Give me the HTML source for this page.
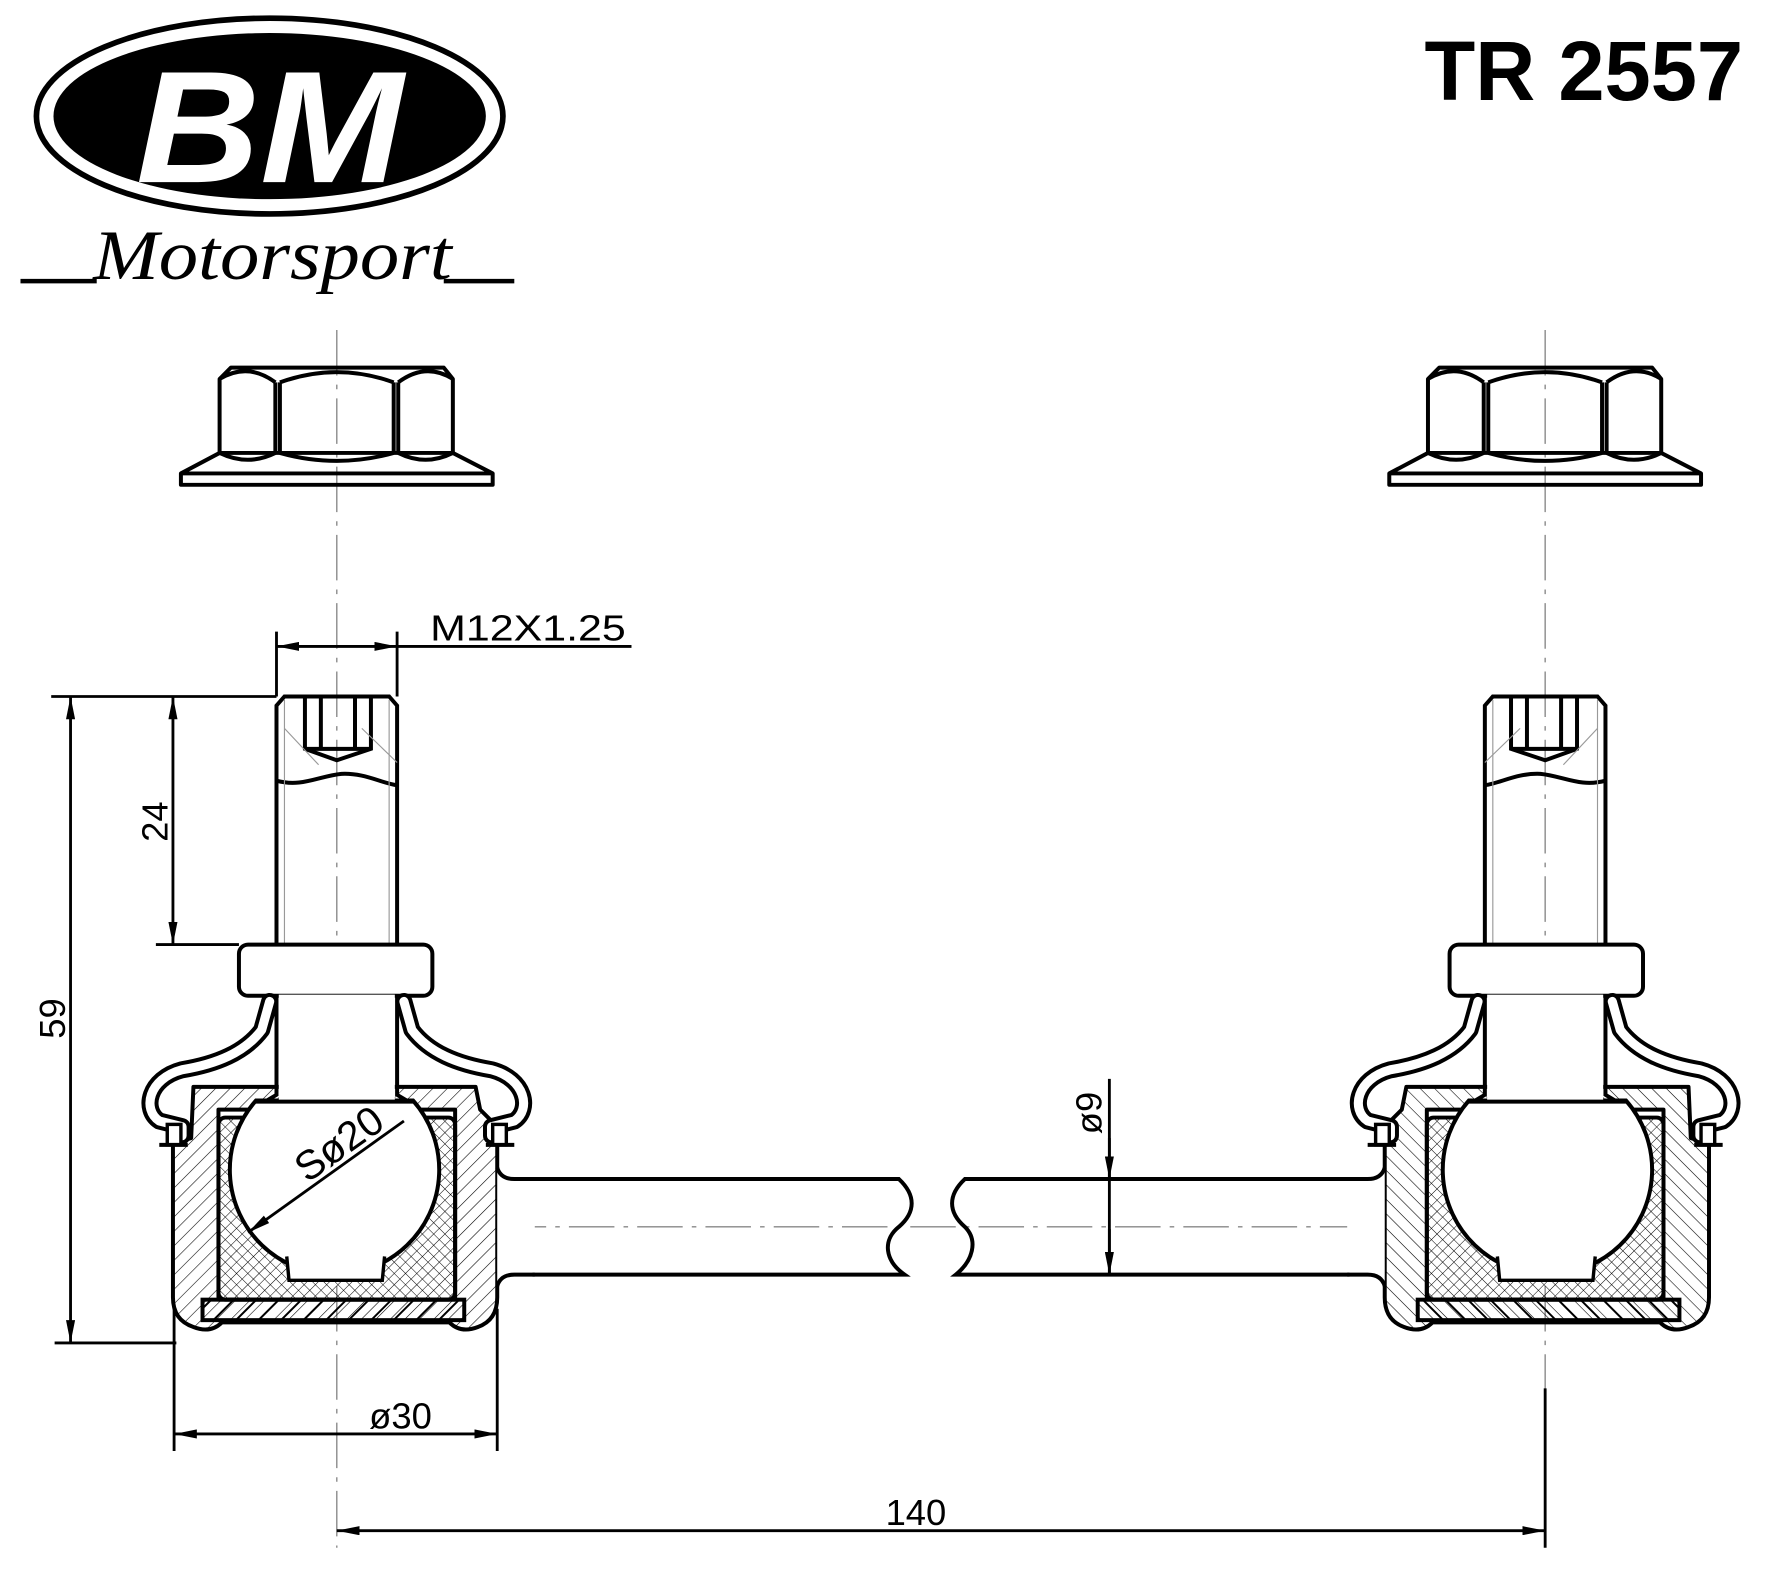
<!DOCTYPE html>
<html><head><meta charset="utf-8"><style>html,body{margin:0;padding:0;background:#fff}svg{display:block}</style></head>
<body>
<svg width="1775" height="1591" viewBox="0 0 1560 1398" preserveAspectRatio="none" xmlns="http://www.w3.org/2000/svg">
<defs>
<pattern id="h1" width="9" height="9" patternUnits="userSpaceOnUse" patternTransform="rotate(45)"><line x1="0" y1="0" x2="0" y2="9" stroke="#000" stroke-width="1"/></pattern>
<pattern id="hx" width="7" height="7" patternUnits="userSpaceOnUse" patternTransform="rotate(45)"><path d="M0,0V7M0,0H7" stroke="#000" stroke-width="0.9"/></pattern>
<pattern id="hb" width="14" height="14" patternUnits="userSpaceOnUse" patternTransform="rotate(45)"><line x1="0" y1="0" x2="0" y2="14" stroke="#000" stroke-width="3.5"/></pattern>
<marker id="a" viewBox="0 0 20 8" refX="20" refY="4" markerWidth="20" markerHeight="8" orient="auto-start-reverse" markerUnits="userSpaceOnUse"><path d="M0,0L20,4L0,8Z" fill="#000"/></marker>
<g id="nut" fill="none" stroke="#000" stroke-width="3.5" stroke-linejoin="round">
 <path d="M193,398 L159,416 L159,426 L433,426 L433,416 L398,398"/>
 <line x1="159" y1="416" x2="433" y2="416"/>
 <path d="M203,323 L390,323 L398,333 L398,398 L193,398 L193,333 Z"/>
 <line x1="242" y1="336" x2="242" y2="398"/><line x1="246" y1="336" x2="246" y2="398"/>
 <line x1="346" y1="336" x2="346" y2="398"/><line x1="350" y1="336" x2="350" y2="398"/>
 <path d="M246,336 Q296,318 346,336"/><path d="M246,398 Q296,412 346,398"/>
 <path d="M193,333 Q218,318 242,336"/><path d="M350,336 Q374,318 398,333"/>
 <path d="M193,398 Q218,410 242,398"/><path d="M350,398 Q374,410 398,398"/>
</g>
<g id="asm">
 <g fill="none" stroke="#000" stroke-width="3.5">
  <path d="M243,830 L243,620 L250,612 L342,612 L349,620 L349,830"/>
  <path d="M268,612 L268,658 L296,668 L326,658 L326,612"/>
  <line x1="282" y1="612" x2="282" y2="658"/><line x1="312" y1="612" x2="312" y2="658"/>
  <line x1="268" y1="658" x2="326" y2="658"/>
  <path d="M243,686 C265,692 280,682 300,680 C320,679 335,688 349,690"/>
 </g>
 <g stroke="#999" stroke-width="1"><line x1="250" y1="640" x2="280" y2="672"/><line x1="318" y1="640" x2="349" y2="670"/><line x1="250" y1="615" x2="250" y2="830"/><line x1="342" y1="615" x2="342" y2="830"/></g>
 <rect x="210" y="830" width="170" height="45" rx="8" fill="#fff" stroke="#000" stroke-width="3.5"/>
 <path d="M170,955 L418,955 L422,975 L437,990 L437,1140 Q437,1160 420,1166 Q405,1172 395,1162 L195,1162 Q185,1172 170,1166 Q152,1160 152,1140 L152,1005 L168,1000 Z M192,975 L400,975 L400,1142 L192,1142 Z" fill="url(#h1)" fill-rule="evenodd" stroke="#000" stroke-width="3.5" stroke-linejoin="round"/>
 <rect x="192" y="982" width="208" height="160" rx="6" fill="url(#hx)" stroke="#000" stroke-width="3.5"/>
 <path d="M225,967 A92,92 0 1,0 363,967 Z" fill="#fff" stroke="#000" stroke-width="3.5"/>
 <path d="M252,1104 L254,1125 L336,1125 L338,1104" fill="#fff" stroke="#000" stroke-width="3"/>
 <rect x="245" y="874" width="102" height="93" fill="#fff"/>
 <path d="M243,875 L243,962 L233,968 M349,875 L349,962 L359,968" fill="none" stroke="#000" stroke-width="3.5"/>
 <line x1="225" y1="968" x2="363" y2="968" stroke="#000" stroke-width="3.5"/>
 <rect x="178" y="1142" width="230" height="18" fill="url(#hb)" stroke="#000" stroke-width="3.5"/>
 <g fill="none" stroke-linecap="round" stroke-linejoin="round">
  <path d="M237,880 L230,905 C215,925 190,935 160,940 C130,948 125,975 140,985 L160,990 L160,998" stroke="#000" stroke-width="15"/>
  <path d="M237,880 L230,905 C215,925 190,935 160,940 C130,948 125,975 140,985 L160,990 L160,998" stroke="#fff" stroke-width="8"/>
  <path d="M355,880 L362,905 C377,925 402,935 432,940 C462,948 467,975 452,985 L432,990 L432,998" stroke="#000" stroke-width="15"/>
  <path d="M355,880 L362,905 C377,925 402,935 432,940 C462,948 467,975 452,985 L432,990 L432,998" stroke="#fff" stroke-width="8"/>
 </g>
 <rect x="147" y="988" width="12" height="18" fill="#fff" stroke="#000" stroke-width="3"/>
 <rect x="433" y="988" width="12" height="18" fill="#fff" stroke="#000" stroke-width="3"/>
 <line x1="140" y1="1006" x2="165" y2="1006" stroke="#000" stroke-width="3.5"/>
 <line x1="427" y1="1006" x2="452" y2="1006" stroke="#000" stroke-width="3.5"/>
 <path d="M437,1026 Q440,1036 452,1036 L470,1036 L470,1120 L452,1120 Q440,1120 437,1130" fill="#fff" stroke="none"/>
 <path d="M437,1026 Q440,1036 452,1036 L470,1036 M470,1120 L452,1120 Q440,1120 437,1130" fill="none" stroke="#000" stroke-width="3.5"/>
</g>
</defs>

<ellipse cx="237" cy="102" rx="205" ry="86" fill="#fff" stroke="#000" stroke-width="5"/>
<ellipse cx="237" cy="102" rx="190" ry="73" fill="#000"/>
<text x="237" y="160" text-anchor="middle" font-family="Liberation Sans, sans-serif" font-weight="bold" font-style="italic" font-size="140" fill="#fff" textLength="235" lengthAdjust="spacingAndGlyphs">BM</text>
<text x="82" y="245" font-family="Liberation Serif, serif" font-style="italic" font-size="62" fill="#000" textLength="315" lengthAdjust="spacingAndGlyphs">Motorsport</text>
<line x1="18" y1="247" x2="85" y2="247" stroke="#000" stroke-width="4"/>
<line x1="390" y1="247" x2="452" y2="247" stroke="#000" stroke-width="4"/>
<text x="1532" y="88" text-anchor="end" font-family="Liberation Sans, sans-serif" font-weight="bold" font-size="74" textLength="280" lengthAdjust="spacingAndGlyphs">TR 2557</text>

<g stroke="#888" stroke-width="1.2" stroke-dasharray="40,8,4,8">
<line x1="296" y1="290" x2="296" y2="1360"/><line x1="1358" y1="290" x2="1358" y2="1230"/>
<line x1="440" y1="1078" x2="1215" y2="1078"/>
</g>

<use href="#nut"/>
<use href="#nut" transform="translate(1062,0)"/>
<use href="#asm"/>
<use href="#asm" transform="translate(1654,0) scale(-1,1)"/>
<!-- bar -->
<g fill="none" stroke="#000" stroke-width="3.5">
 <path d="M468,1036 L790,1036 C805,1050 805,1065 790,1078 C775,1090 778,1108 795,1120 L468,1120"/>
 <path d="M1186,1036 L848,1036 C833,1050 833,1065 848,1078 C860,1090 855,1108 840,1120 L1186,1120"/>
</g>
<line x1="1358" y1="1220" x2="1358" y2="1360" stroke="#000" stroke-width="2.5"/>

<g stroke="#000" stroke-width="2.5" fill="none">
 <line x1="243" y1="555" x2="243" y2="612"/><line x1="349" y1="555" x2="349" y2="612"/>
 <line x1="243" y1="568" x2="349" y2="568" marker-start="url(#a)" marker-end="url(#a)"/>
 <line x1="349" y1="568" x2="555" y2="568"/>
 <line x1="45" y1="612" x2="243" y2="612"/>
 <line x1="137" y1="830" x2="210" y2="830"/>
 <line x1="152" y1="612" x2="152" y2="830" marker-start="url(#a)" marker-end="url(#a)"/>
 <line x1="48" y1="1180" x2="155" y2="1180"/>
 <line x1="62" y1="612" x2="62" y2="1180" marker-start="url(#a)" marker-end="url(#a)"/>
 <line x1="153" y1="1150" x2="153" y2="1275"/><line x1="437" y1="1150" x2="437" y2="1275"/>
 <line x1="153" y1="1260" x2="437" y2="1260" marker-start="url(#a)" marker-end="url(#a)"/>
 <line x1="296" y1="1345" x2="1358" y2="1345" marker-start="url(#a)" marker-end="url(#a)"/>
 <line x1="975" y1="948" x2="975" y2="1120"/>
 <line x1="975" y1="1000" x2="975" y2="1036" marker-end="url(#a)"/>
 <line x1="975" y1="1080" x2="975" y2="1120" marker-end="url(#a)"/>
 <line x1="355" y1="985" x2="218" y2="1083" marker-end="url(#a)"/>
</g>
<g font-family="Liberation Sans, sans-serif" font-size="32" fill="#000">
 <text x="378" y="563" textLength="172" lengthAdjust="spacingAndGlyphs">M12X1.25</text>
 <text transform="translate(147,722) rotate(-90)" text-anchor="middle">24</text>
 <text transform="translate(57,895) rotate(-90)" text-anchor="middle">59</text>
 <text x="352" y="1255" text-anchor="middle">ø30</text>
 <text x="805" y="1340" text-anchor="middle">140</text>
 <text transform="translate(968,978) rotate(-90)" text-anchor="middle">ø9</text>
 <text transform="translate(305,1015) rotate(-35.5)" text-anchor="middle" font-size="36">Sø20</text>
</g>
</svg>
</body></html>
